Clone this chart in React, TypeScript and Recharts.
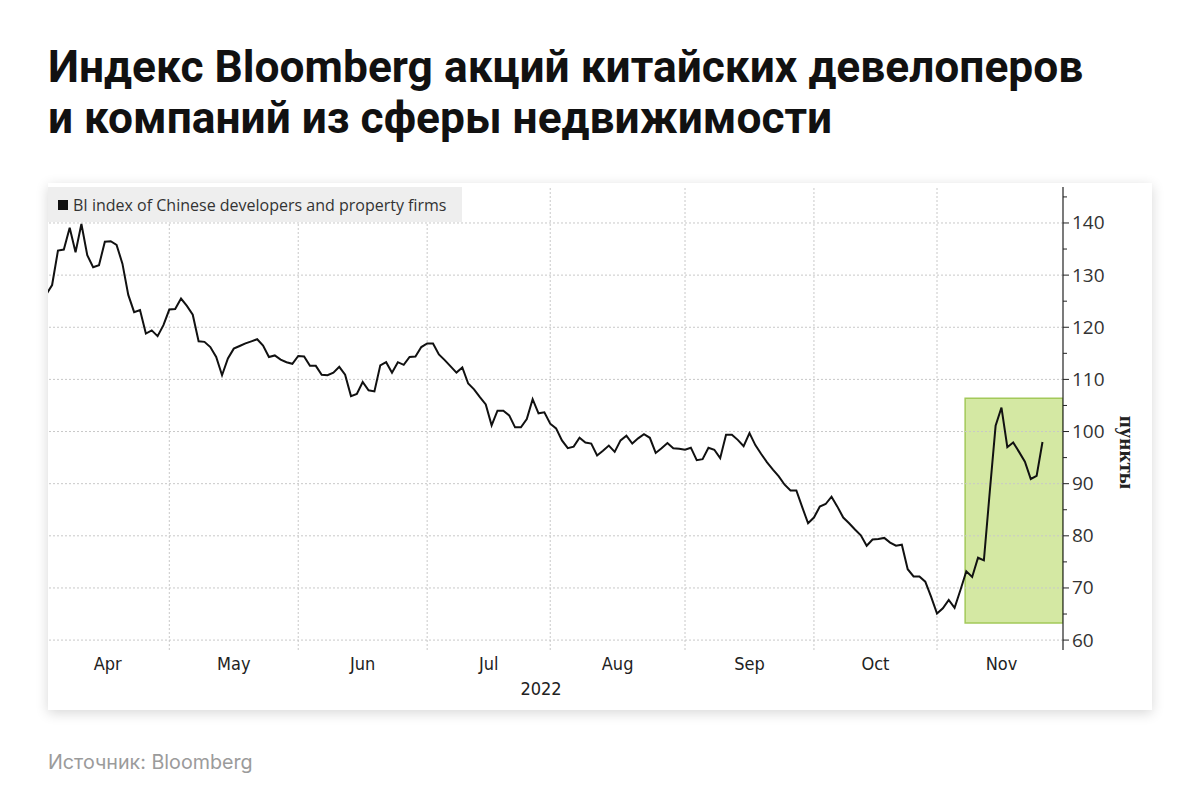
import React from 'react';
import { LineChart, Line, XAxis, YAxis, ReferenceLine, ReferenceArea } from 'recharts';

// weekday index from 1 Apr 2022, index points
const indexValues = [
  126.3, 128.1, 134.7, 134.9, 139.1, 134.4, 139.8, 133.8, 131.5, 131.9,
  136.4, 136.5, 135.8, 132.2, 126.2, 122.9, 123.3, 118.8, 119.4, 118.3,
  120.4, 123.4, 123.5, 125.5, 124.1, 122.4, 117.3, 117.2, 116.2, 114.3,
  110.8, 114.0, 115.9, 116.4, 116.9, 117.3, 117.7, 116.5, 114.3, 114.6,
  113.8, 113.3, 113.0, 114.5, 114.4, 112.6, 112.6, 110.9, 110.8, 111.3,
  112.4, 110.9, 106.8, 107.2, 109.5, 107.9, 107.7, 112.7, 113.3, 111.3,
  113.3, 112.8, 114.3, 114.4, 116.2, 116.9, 116.9, 114.8, 113.7, 112.5,
  111.3, 112.3, 109.2, 108.1, 106.6, 105.2, 101.2, 104.0, 104.0, 103.1,
  100.8, 100.8, 102.4, 106.2, 103.5, 103.7, 101.5, 100.6, 98.3, 96.8,
  97.1, 98.8, 97.9, 97.7, 95.4, 96.3, 97.3, 96.1, 98.3, 99.2,
  97.7, 98.7, 99.5, 98.8, 95.9, 96.8, 97.8, 96.8, 96.7, 96.5,
  96.9, 94.5, 94.7, 96.9, 96.5, 94.9, 99.4, 99.4, 98.4, 97.2,
  99.7, 97.4, 95.7, 94.1, 92.7, 91.4, 89.8, 88.7, 88.7, 85.5,
  82.4, 83.5, 85.6, 86.1, 87.5, 85.6, 83.5, 82.4, 81.2, 80.1,
  78.1, 79.3, 79.4, 79.6, 78.7, 78.1, 78.3, 73.6, 72.2, 72.2,
  71.2, 68.3, 65.1, 66.1, 67.7, 66.2, 69.6, 73.2, 72.1, 75.8,
  75.3, 88.4, 101.1, 104.6, 97.0, 97.9, 96.1, 94.2, 90.9, 91.5,
  98.0,
];

const monthNames = ['Apr', 'May', 'Jun', 'Jul', 'Aug', 'Sep', 'Oct', 'Nov'];
const monthMids = [10.5, 32, 54, 75.5, 97.5, 120, 141.5, 163];
const monthStarts = [21, 43, 65, 86, 109, 131, 152];
const yTicks = [60, 65, 70, 75, 80, 85, 90, 95, 100, 105, 110, 115, 120, 125, 130, 135, 140, 145];
const yGrid = [60, 70, 80, 90, 100, 110, 120, 130, 140];
const highlight = { x1: 156.8, x2: 173.5, y1: 63.3, y2: 106.4 };

const data = indexValues.map((v, i) => ({ day: i, value: v }));

const YTick = (props: any) => {
  const { x, y, payload } = props;
  const major = payload.value % 10 === 0;
  return (
    <g>
      <line x1={x} x2={x + (major ? 6 : 4)} y1={y} y2={y} stroke="#222" strokeWidth={1} />
      {major && (
        <text x={x + 9} y={y} dy={6.5} fill="#333" fontSize={19} fontFamily="'Open Sans', sans-serif">
          {payload.value}
        </text>
      )}
    </g>
  );
};

const XTick = (props: any) => {
  const { x, y, payload, index } = props;
  return (
    <text x={x} y={y} dy={14} textAnchor="middle" fill="#222" fontSize={18}
      fontFamily="'Liberation Sans Narrow', 'DejaVu Sans Condensed', sans-serif">
      {monthNames[index] ?? payload.value}
    </text>
  );
};

const UnitLabel = (props: any) => {
  const vb = props.viewBox;
  const cx = vb.x + vb.width - 25;
  const cy = vb.y + vb.height / 2 + 34;
  return (
    <text x={cx} y={cy} transform={`rotate(90 ${cx} ${cy})`} textAnchor="middle" dy={7}
      fill="#222" fontSize={21} fontWeight={700} fontFamily="'Liberation Serif', serif">
      пункты
    </text>
  );
};

const YearLabel = (props: any) => {
  const vb = props.viewBox;
  return (
    <text x={541 - 48} y={vb.y + 45} textAnchor="middle" fill="#222" fontSize={18}
      fontFamily="'Liberation Sans Narrow', 'DejaVu Sans Condensed', sans-serif">
      2022
    </text>
  );
};

export default function App() {
  return (
    <div style={{ position: 'absolute', left: 0, top: 0, width: 1200, height: 811, background: '#fff' }}>
      <div style={{
        position: 'absolute', left: 48, top: 42, width: 1140,
        fontFamily: 'Roboto, Inter, sans-serif', fontWeight: 700, fontSize: 44.3, lineHeight: '51px', color: '#111',
      }}>
        Индекс Bloomberg акций китайских девелоперов<br />и компаний из сферы недвижимости
      </div>

      <div style={{
        position: 'absolute', left: 48, top: 183, width: 1104, height: 527, background: '#fff',
        boxShadow: '0 3px 12px rgba(0,0,0,0.16)',
      }}>
        <LineChart width={1104} height={527} data={data} margin={{ top: 4, right: 0, bottom: 0, left: 0 }}>
          <ReferenceArea x1={highlight.x1} x2={highlight.x2} y1={highlight.y1} y2={highlight.y2}
            fill="#d4e8a3" fillOpacity={1} stroke="#a3c95a" strokeWidth={1.5} ifOverflow="hidden" />
          {yGrid.map(v => (
            <ReferenceLine key={'h' + v} y={v} stroke="#c8c8c8" strokeDasharray="2 2" />
          ))}
          {monthStarts.map(d => (
            <ReferenceLine key={'v' + d} x={d} stroke="#c8c8c8" strokeDasharray="2 2" />
          ))}
          <XAxis dataKey="day" type="number" domain={[0.3, 173.5]} allowDataOverflow
            ticks={monthMids} tick={<XTick />} tickLine={false} axisLine={false}
            tickSize={0} tickMargin={6} height={60} interval={0}
            label={<YearLabel />} />
          <YAxis orientation="right" width={89} domain={[58.1, 146.9]} allowDataOverflow
            ticks={yTicks} tick={<YTick />} tickLine={false} tickSize={0} tickMargin={0}
            axisLine={{ stroke: '#222', strokeWidth: 1.2 }} interval={0}
            label={<UnitLabel />} />
          <Line dataKey="value" type="linear" stroke="#111" strokeWidth={2} dot={false}
            isAnimationActive={false} />
        </LineChart>

        <div style={{
          position: 'absolute', left: 0, top: 4, width: 414, height: 35, background: '#eeeeee',
          display: 'flex', alignItems: 'center', fontFamily: "'Open Sans', sans-serif", fontSize: 16, color: '#333',
        }}>
          <span style={{ display: 'inline-block', width: 10, height: 10, background: '#111', marginLeft: 10, marginRight: 5 }} />
          BI index of Chinese developers and property firms
        </div>
      </div>

      <div style={{
        position: 'absolute', left: 48, top: 750, fontFamily: 'Inter, Roboto, sans-serif', fontSize: 19.7, color: '#9b9b9b',
      }}>
        Источник: Bloomberg
      </div>
    </div>
  );
}
